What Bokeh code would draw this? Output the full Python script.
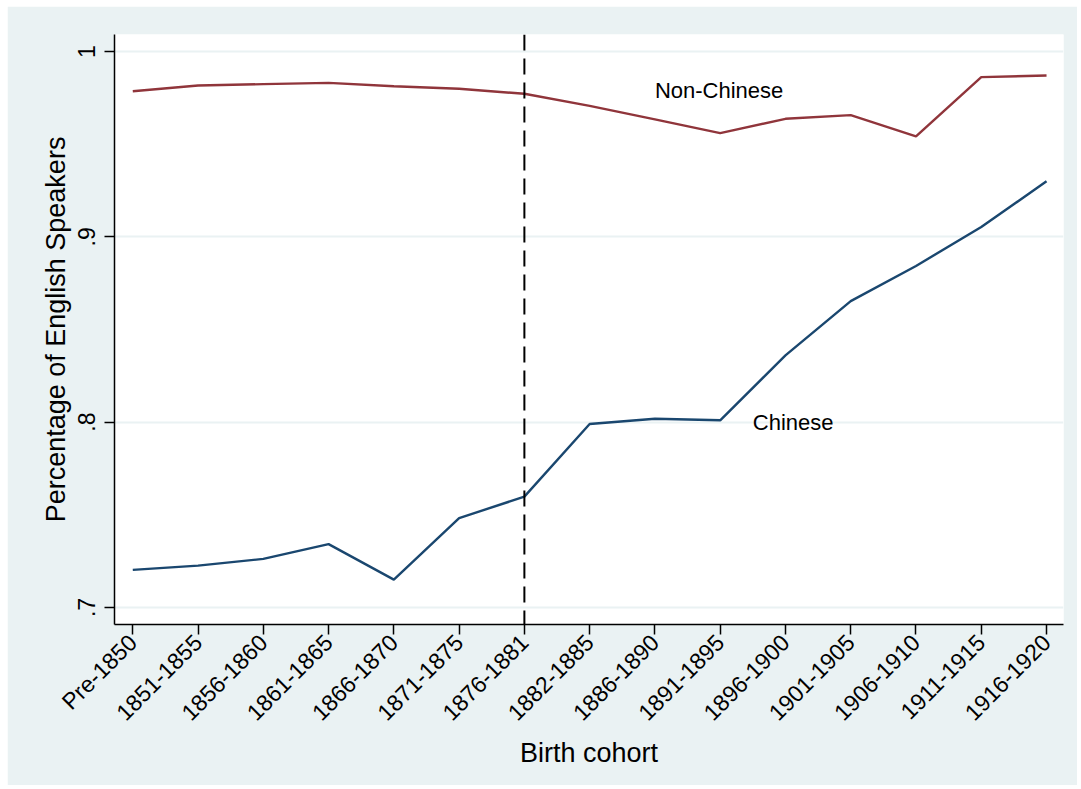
from bokeh.plotting import figure
from bokeh.models import FixedTicker, Span, Label, Range1d
from bokeh.embed import file_html
from bokeh.resources import INLINE
import math

cohorts = ["Pre-1850", "1851-1855", "1856-1860", "1861-1865", "1866-1870",
           "1871-1875", "1876-1881", "1882-1885", "1886-1890", "1891-1895",
           "1896-1900", "1901-1905", "1906-1910", "1911-1915", "1916-1920"]
chinese = [0.7203, 0.7226, 0.7262, 0.7342, 0.7150, 0.7482, 0.7598, 0.7990,
           0.8018, 0.8010, 0.8360, 0.8653, 0.8843, 0.9053, 0.9300]
non_chinese = [0.9786, 0.9817, 0.9824, 0.9831, 0.9813, 0.9799, 0.9772, 0.9707,
               0.9634, 0.9560, 0.9637, 0.9657, 0.9542, 0.9862, 0.9871]
y_ticks = [0.7, 0.8, 0.9, 1.0]
y_tick_labels = [".7", ".8", ".9", "1"]
cutoff_cohort = "1876-1881"
series_labels = ["Non-Chinese", "Chinese"]
label_pos_x = [8.0, 9.5]
label_pos_y = [0.979, 0.7997]

FONT = "Liberation Sans"
BG = "#EAF2F3"
xs = list(range(len(cohorts)))

p = figure(width=1070, height=779, output_backend="svg", toolbar_location=None,
           x_range=Range1d(-0.28, len(cohorts) - 1 + 0.26),
           y_range=Range1d(0.6908, 1.0092), margin=(6, 4, 4, 7))
p.background_fill_color = "white"
p.border_fill_color = BG
p.outline_line_color = None
p.min_border_left = 107
p.min_border_top = 28
p.min_border_right = 14
p.min_border_bottom = 161

p.line(xs, chinese, line_color="#1A476F", line_width=2.4)
p.line(xs, non_chinese, line_color="#90353B", line_width=2.4)

p.add_layout(Span(location=cohorts.index(cutoff_cohort), dimension="height",
                  line_color="black", line_width=2, line_dash="16 8"))

for txt, lx, ly in zip(series_labels, label_pos_x, label_pos_y):
    p.add_layout(Label(x=lx, y=ly, text=txt, text_font=FONT, text_font_size="22px",
                       text_align="left", text_baseline="middle", text_color="black"))

# x axis
p.xaxis.ticker = FixedTicker(ticks=xs)
p.xaxis.major_label_overrides = {i: c for i, c in zip(xs, cohorts)}
p.xaxis.major_label_orientation = math.pi / 4
p.xaxis.axis_label = "Birth cohort"
# y axis
p.yaxis.ticker = FixedTicker(ticks=y_ticks)
p.yaxis.major_label_overrides = {t: l for t, l in zip(y_ticks, y_tick_labels)}
p.yaxis.major_label_orientation = "vertical"
p.yaxis.axis_label = "Percentage of English Speakers"

for ax in (p.xaxis, p.yaxis):
    ax.axis_line_color = "black"
    ax.axis_line_width = 1.5
    ax.major_tick_line_color = "black"
    ax.major_tick_line_width = 1.5
    ax.major_tick_out = 10
    ax.major_tick_in = 0
    ax.minor_tick_line_color = None
    ax.major_label_text_font = FONT
    ax.major_label_text_font_size = "23px"
    ax.major_label_text_color = "black"
    ax.axis_label_text_font = FONT
    ax.axis_label_text_font_size = "27px"
    ax.axis_label_text_font_style = "normal"
    ax.axis_label_text_color = "black"

p.xaxis.major_label_standoff = 4
p.xaxis.axis_label_standoff = 0
p.yaxis.major_label_standoff = 9
p.yaxis.axis_label_standoff = 5

p.xgrid.grid_line_color = None
p.ygrid.grid_line_color = BG
p.ygrid.grid_line_width = 2

open("out.html", "w").write(file_html(p, INLINE))
